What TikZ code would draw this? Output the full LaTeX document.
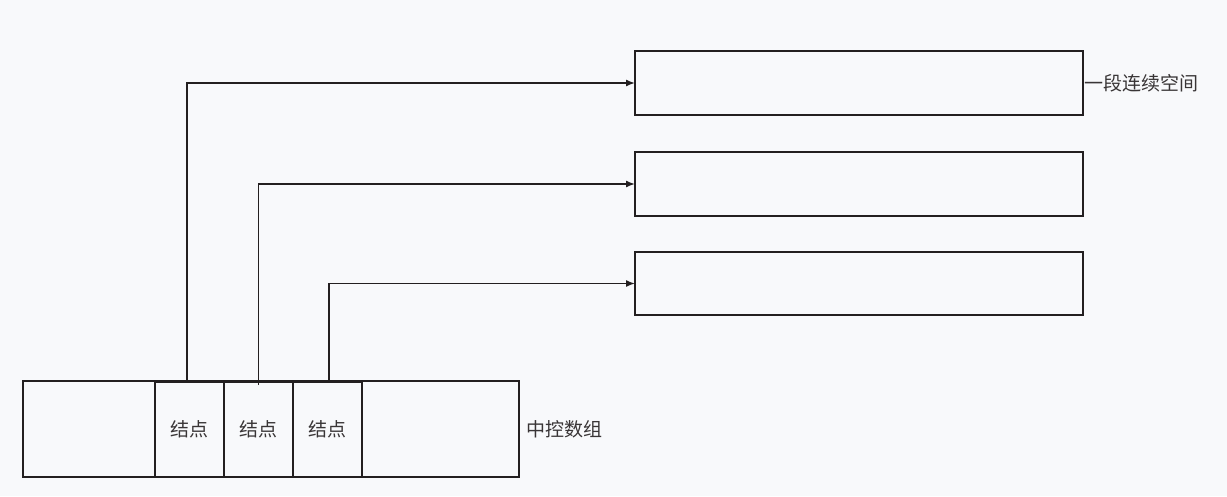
\documentclass[tikz,border=0pt]{standalone}
\usepackage{fontspec}
\setmainfont{Noto Sans CJK SC}
\usetikzlibrary{arrows.meta,positioning}
\definecolor{ink}{HTML}{231F20}
\definecolor{paper}{HTML}{F8F9FB}

\begin{document}
\begin{tikzpicture}[x=1pt,y=-1pt]%
        \tikzset{%
            txt/.style={font=\fontsize{19}{21}\selectfont, text=ink!90},
            array/.style={draw=ink, line width=1.4pt, minimum width=496pt, minimum height=96pt, inner sep=0pt, outer sep=0pt},
            cell/.style={draw=ink, line width=1.9pt, minimum width=69pt, minimum height=95pt, inner sep=0pt, outer sep=0pt, txt},
            space/.style={draw=ink, line width=1.4pt, minimum width=448pt, inner sep=0pt, outer sep=0pt},
            link/.style={draw=ink, line width=1.4pt, -{Latex[length=9pt,width=7pt]}},
        }%
        \fill[paper] (0,0) rectangle (1227,496);
        % central array and its nodes
        \node[array, anchor=north west] (arr) at (23,381) {};
        \node[cell, anchor=north west] (n1) at (155,382) {结点};
        \node[cell, right=0pt of n1] (n2) {结点};
        \node[cell, right=0pt of n2] (n3) {结点};
        \node[txt, right=4pt of arr] (arrlbl) {中控数组};
        % contiguous blocks
        \node[space, minimum height=64pt, anchor=north west] (s1) at (635,51) {};
        \node[space, minimum height=64pt, anchor=north west] (s2) at (635,152) {};
        \node[space, minimum height=63pt, anchor=north west] (s3) at (635,252) {};
        \node[txt, right=0pt of s1, inner sep=1pt] (slbl) {一段连续空间};
        % pointers
        \draw[link] ([xshift=-2.5pt]n1.north) |- (s1.west);
        \draw[link] ([yshift=-3pt]n2.north) |- (s2.west);
        \draw[link] ([xshift=1.5pt]n3.north) |- (s3.west);
\end{tikzpicture}
\end{document}
